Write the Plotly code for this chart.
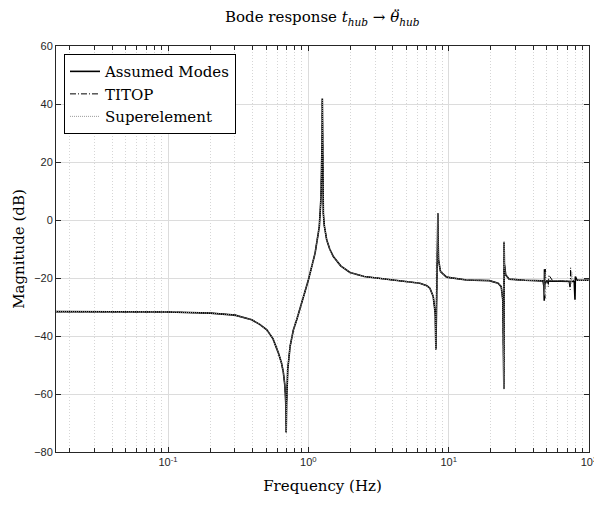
import plotly.graph_objects as go

# ---- data (frequency in Hz, magnitude in dB) ----
common_freq = [0.0159, 0.03, 0.05, 0.1, 0.2, 0.3, 0.395, 0.45, 0.506, 0.56, 0.612, 0.645,
               0.664, 0.68, 0.69, 0.695, 0.70, 0.705, 0.713, 0.741, 0.782, 0.826, 0.9, 1.0,
               1.116, 1.197, 1.231, 1.245, 1.253, 1.258, 1.263, 1.27, 1.279, 1.30, 1.352,
               1.42, 1.507, 1.7, 1.98, 2.5, 3.0, 4.5, 6.24, 7.0, 7.35, 7.76, 8.02, 8.11,
               8.2, 8.3, 8.38, 8.42, 8.47, 8.75, 9.66, 13.4, 19.5, 22.5, 23.7, 24.3, 24.6,
               24.75, 24.8, 24.85, 24.95, 25.5, 27.0, 35.0, 45.0]
common_db = [-31.6, -31.6, -31.6, -31.7, -32.1, -32.8, -34.4, -36.0, -37.9, -41.0, -45.9, -49.5,
             -52.7, -57.0, -63.0, -73.2, -63.0, -57.0, -51.6, -43.6, -37.9, -34.4, -28.5, -20.7,
             -11.5, -2.3, 8.0, 16.0, 28.0, 41.9, 28.0, 12.0, 2.3, -2.0, -6.9,
             -10.0, -12.6, -15.8, -18.1, -19.5, -20.0, -20.9, -21.8, -22.7, -23.5, -26.4, -32.1, -44.7,
             -30.0, -10.0, 2.3, -8.0, -13.8, -17.8, -19.7, -20.7, -20.9, -21.8, -23.0, -27.5, -40.0,
             -58.3, -35.0, -7.5, -15.0, -18.9, -20.4, -20.8, -20.9]

am_tail_freq = [47.0, 47.8, 48.0, 48.2, 48.5, 50.0, 60.0, 70.0, 78.5, 79.5, 80.0, 82.0, 100.0]
am_tail_db = [-21.0, -23.0, -27.8, -17.0, -22.0, -21.0, -21.0, -21.0, -21.2, -27.5, -19.5, -20.7, -20.8]

titop_tail_freq = [47.5, 48.5, 48.8, 49.2, 50.5, 51.3, 51.8, 55.0, 72.0, 73.5, 74.0, 74.5, 77.0, 100.0]
titop_tail_db = [-21.0, -27.0, -16.6, -21.0, -20.8, -23.0, -19.0, -20.9, -21.0, -24.0, -16.5, -20.5, -20.8, -20.8]

se_tail_freq = [47.5, 48.4, 48.7, 49.0, 55.0, 73.0, 75.0, 75.5, 76.0, 100.0]
se_tail_db = [-21.0, -26.0, -18.0, -21.0, -20.9, -21.0, -22.0, -18.0, -20.8, -20.8]

y_ticks = [-80, -60, -40, -20, 0, 20, 40, 60]
x_ticks = [0.1, 1, 10, 100]
x_tick_labels = ["10<sup>-1</sup>", "10<sup>0</sup>", "10<sup>1</sup>", "10<sup>2</sup>"]

am_f = common_freq + am_tail_freq
am_m = common_db + am_tail_db
ti_f = common_freq + titop_tail_freq
ti_m = common_db + titop_tail_db
se_f = common_freq + se_tail_freq
se_m = common_db + se_tail_db

serif = "DejaVu Serif"

fig = go.Figure()
fig.add_trace(go.Scatter(x=am_f, y=am_m, mode="lines", name="Assumed Modes",
                         line=dict(color="black", width=1.6)))
fig.add_trace(go.Scatter(x=ti_f, y=ti_m, mode="lines", name="TITOP",
                         line=dict(color="black", width=1, dash="6px,2px,1px,2px")))
fig.add_trace(go.Scatter(x=se_f, y=se_m, mode="lines", name="Superelement",
                         line=dict(color="#9a9a9a", width=1, dash="1px,1px")))

axis_common = dict(
    showline=True, linecolor="#262626", linewidth=1, mirror="ticks",
    ticks="inside", ticklen=5, tickcolor="#262626",
    showgrid=True, gridcolor="#dcdcdc", gridwidth=1, zeroline=False,
    tickfont=dict(family="Liberation Sans", size=11, color="#262626"),
    automargin=False, ticklabeloverflow="allow",
)

fig.update_xaxes(
    type="log", range=[-1.7986, 2.0002], tickvals=x_ticks, ticktext=x_tick_labels,
    title=dict(text="Frequency (Hz)", font=dict(family=serif, size=15, color="black"), standoff=13),
    minor=dict(ticks="inside", ticklen=4, tickcolor="#262626", showgrid=True,
               gridcolor="#d6d6d6", griddash="1px,2px", dtick="D1"),
    **axis_common,
)
fig.update_yaxes(
    range=[-80, 60], tickvals=y_ticks,
    title=dict(text="Magnitude (dB)", font=dict(family=serif, size=15, color="black"), standoff=5),
    **axis_common,
)

title_text = ("Bode response <i>t</i><sub><i>hub</i></sub> \u2192 "
              "<i>\u03b8</i><sub><i>hub</i></sub>")

fig.update_layout(
    width=594, height=506,
    margin=dict(l=56, r=5, t=46, b=54, autoexpand=False),
    paper_bgcolor="white", plot_bgcolor="white",
    title=dict(text=title_text,
               x=0.5425, xanchor="center", y=0.966, yanchor="middle",
               font=dict(family=serif, size=15, color="black")),
    legend=dict(x=0.015, y=0.98, xanchor="left", yanchor="top",
                bgcolor="white", bordercolor="black", borderwidth=1,
                font=dict(family=serif, size=15, color="black"),
                tracegroupgap=0, itemwidth=30),
    showlegend=True,
)

# double-dot accent over theta in the title
fig.add_annotation(text="\u00a8", xref="paper", yref="paper", x=0.6398, y=1.0727,
                   xanchor="center", yanchor="middle", showarrow=False,
                   font=dict(family=serif, size=15, color="black"))

fig.write_html("out.html", config={"displayModeBar": False},
               post_script="document.body.style.margin='0';")
